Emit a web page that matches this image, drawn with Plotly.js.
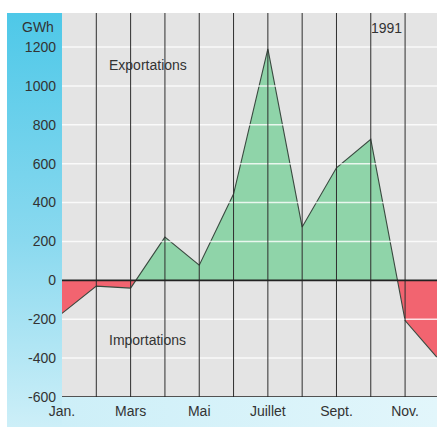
<!DOCTYPE html>
<html>
<head>
<meta charset="utf-8">
<script src="https://cdn.plot.ly/plotly-3.0.1.min.js"></script>
<style>
  html, body { margin: 0; padding: 0; background: #ffffff; }
  #wrap { position: relative; width: 437px; height: 427px; overflow: hidden; background: #ffffff; }
  #bandLeft { position: absolute; left: 7px; top: 13px; width: 55px; height: 414px;
    background: linear-gradient(to bottom, #4ec8e8 0%, #8ad9ef 55%, #cdeff8 100%); }
  #bandBottom { position: absolute; left: 62px; top: 397px; width: 375px; height: 30px;
    background: linear-gradient(to right, #cdeff8 0%, #e2f6fb 100%); }
  #chart { position: absolute; left: 0; top: 0; width: 437px; height: 427px; }
</style>
</head>
<body>
<div id="wrap">
  <div id="bandLeft"></div>
  <div id="bandBottom"></div>
  <div id="chart"></div>
</div>
<script>
// Data (GWh, 1991) — solde des échanges d'électricité par mois
const months = [1, 2, 3, 4, 5, 6, 7, 8, 9, 10, 11, 12];
const values = [-170, -30, -40, 222, 78, 444, 1190, 274, 579, 725, -207, -410];
const tickMonths = [1, 3, 5, 7, 9, 11];
const tickLabels = ["Jan.", "Mars", "Mai", "Juillet", "Sept.", "Nov."];
const yTicks = [-600, -400, -200, 0, 200, 400, 600, 800, 1000, 1200];

// split the line into its positive and negative parts (inserting zero crossings)
function splitSign(xs, ys) {
  const px = [], py = [], nx = [], ny = [];
  for (let i = 0; i < xs.length; i++) {
    const x = xs[i], y = ys[i];
    px.push(x); py.push(Math.max(y, 0));
    nx.push(x); ny.push(Math.min(y, 0));
    if (i < xs.length - 1) {
      const y2 = ys[i + 1];
      if ((y > 0 && y2 < 0) || (y < 0 && y2 > 0)) {
        const xc = x + (xs[i + 1] - x) * (y / (y - y2));
        px.push(xc); py.push(0);
        nx.push(xc); ny.push(0);
      }
    }
  }
  return { px, py, nx, ny };
}
const parts = splitSign(months, values);

const font = "Liberation Sans, Arial, Helvetica, sans-serif";
const txt = "#333333";

const traces = [
  { x: parts.px, y: parts.py, type: "scatter", mode: "lines", fill: "tozeroy",
    fillcolor: "#8fd4a9", line: { width: 0, color: "rgba(0,0,0,0)" }, hoverinfo: "skip" },
  { x: parts.nx, y: parts.ny, type: "scatter", mode: "lines", fill: "tozeroy",
    fillcolor: "#f26470", line: { width: 0, color: "rgba(0,0,0,0)" }, hoverinfo: "skip" },
  { x: months, y: values, type: "scatter", mode: "lines",
    line: { width: 1.1, color: "#3a4a40" }, hoverinfo: "skip" }
];

const shapes = [];
// white horizontal grid lines above the fills
yTicks.forEach(v => {
  if (v === 0 || v === -600) return;
  shapes.push({ type: "line", xref: "paper", yref: "y", x0: 0, x1: 1, y0: v, y1: v,
    line: { color: "rgba(255,255,255,0.8)", width: 1.5 }, layer: "above" });
});
// black vertical lines at each month
months.forEach(m => {
  if (m === 1) return;
  shapes.push({ type: "line", xref: "x", yref: "paper", x0: m, x1: m, y0: 0, y1: 1,
    line: { color: "#2e2e2e", width: 1 }, layer: "above" });
});
// zero line and bottom axis line
shapes.push({ type: "line", xref: "paper", yref: "y", x0: 0, x1: 1, y0: 0, y1: 0,
  line: { color: "#222222", width: 1.6 }, layer: "above" });
shapes.push({ type: "line", xref: "paper", yref: "y", x0: 0, x1: 1, y0: -600, y1: -600,
  line: { color: "#222222", width: 1.6 }, layer: "above" });

const layout = {
  width: 437, height: 427,
  margin: { l: 62, r: 0, t: 13, b: 30, pad: 0 },
  paper_bgcolor: "rgba(0,0,0,0)",
  plot_bgcolor: "#e4e4e4",
  showlegend: false,
  font: { family: font, size: 14, color: txt },
  xaxis: {
    range: [1, 11.93], tickmode: "array", tickvals: tickMonths, ticktext: tickLabels,
    showgrid: false, zeroline: false, showline: false, ticks: "",
    ticklabelstandoff: 4,
    tickfont: { family: font, size: 14, color: txt }, fixedrange: true
  },
  yaxis: {
    range: [-600, 1375], tickmode: "array", tickvals: yTicks,
    ticktext: yTicks.map(String),
    showgrid: false, zeroline: false, showline: false, ticks: "",
    ticklabelstandoff: 5,
    tickfont: { family: font, size: 14, color: txt }, fixedrange: true
  },
  shapes: shapes,
  annotations: [
    { text: "GWh", xref: "paper", yref: "y", x: 0, y: 1305, xanchor: "right", yanchor: "middle",
      xshift: -6, showarrow: false, font: { family: font, size: 14, color: txt } },
    { text: "Exportations", xref: "x", yref: "y", x: 2.3, y: 1106, xanchor: "left", yanchor: "middle",
      showarrow: false, font: { family: font, size: 14, color: txt } },
    { text: "Importations", xref: "x", yref: "y", x: 2.3, y: -305, xanchor: "left", yanchor: "middle",
      showarrow: false, font: { family: font, size: 14, color: txt } },
    { text: "1991", xref: "x", yref: "y", x: 11, y: 1297, xanchor: "right", yanchor: "middle",
      xshift: -1, showarrow: false, font: { family: font, size: 14, color: txt } }
  ]
};

Plotly.newPlot("chart", traces, layout, { staticPlot: true, displayModeBar: false });
</script>
</body>
</html>
